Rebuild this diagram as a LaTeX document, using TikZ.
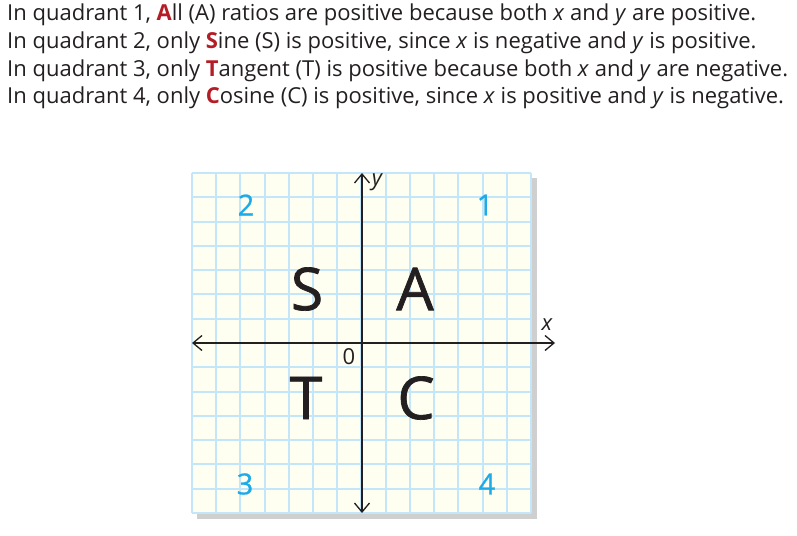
\documentclass[tikz,border=0pt]{standalone}
\usepackage{fontspec}
\setmainfont{Open Sans}
\newfontfamily\ratiofont{Open Sans}[FakeBold=1.2]
\newfontfamily\quadfont{Open Sans}[FakeBold=0.8]
\usetikzlibrary{positioning,arrows.meta}
\definecolor{gridblue}{RGB}{196,230,250}
\definecolor{paper}{RGB}{254,254,241}
\definecolor{numblue}{RGB}{30,170,232}
\definecolor{ratiored}{RGB}{180,28,38}
\definecolor{ink}{RGB}{35,31,32}
\newcommand{\rl}[1]{\textbf{\color{ratiored}#1}}
\tikzset{
  line/.style={anchor=base west,inner sep=0pt,text=ink,font=\fontsize{22}{26}\selectfont},
  quad/.style={text=numblue,font=\quadfont\fontsize{29}{29}\selectfont},
  ratio/.style={text=ink,font=\ratiofont\fontsize{59}{59}\selectfont},
  axis/.style={ink,line width=1.3pt,{Straight Barb[length=9pt,width=15pt]}-{Straight Barb[length=9pt,width=15pt]}}
}
\begin{document}
\begin{tikzpicture}[x=1pt,y=-1pt]
\useasboundingbox (0,0) rectangle (797,535);
% the four statements
\node[line] (l1) at (7,21) {In quadrant 1, \rl{A}ll (A) ratios are positive because both \textit{x} and \textit{y} are positive.};
\node[line] (l2) at (7,48.5) {In quadrant 2, only \rl{S}ine (S) is positive, since \textit{x} is negative and \textit{y} is positive.};
\node[line] (l3) at (7,76) {In quadrant 3, only \rl{T}angent (T) is positive because both \textit{x} and \textit{y} are negative.};
\node[line] (l4) at (7,103.5) {In quadrant 4, only \rl{C}osine (C) is positive, since \textit{x} is positive and \textit{y} is negative.};
% grid paper
\fill[black!19] (197,178) rectangle (537,519);
\fill[paper] (192,173) rectangle (531,513);
\foreach \i in {0,...,14} {
  \draw[gridblue,line width=2pt] (192+\i*24.21,173) -- (192+\i*24.21,513);
  \draw[gridblue,line width=2pt] (192,173+\i*24.29) -- (531,173+\i*24.29);
}
% axes
\coordinate (o) at (362,343);
\coordinate (xl) at (192,343);
\coordinate (xr) at (555,343);
\coordinate (yt) at (362,173);
\coordinate (yb) at (362,513);
\draw[axis] (xl) -- (xr);
\draw[axis] (yb) -- (yt);
\node[text=ink,font=\fontsize{22}{22}\selectfont\itshape] (xlab) at (547,325) {x};
\node[text=ink,font=\fontsize{22}{22}\selectfont\itshape] (ylab) at (377,182) {y};
\node[text=ink,font=\fontsize{22}{22}\selectfont] (zero) at (349,357) {0};
% quadrant numbers
\node[quad] (q1) at (485,205) {1};
\node[quad] (q2) at (246,205) {2};
\node[quad] (q3) at (245,484) {3};
\node[quad] (q4) at (487,484) {4};
% ratio letters
\node[ratio] (S) at (307,289) {S};
\node[ratio] (A) at (415,289) {A};
\node[ratio] (T) at (306,398) {T};
\node[ratio] (C) at (416,398) {C};
\end{tikzpicture}
\end{document}
